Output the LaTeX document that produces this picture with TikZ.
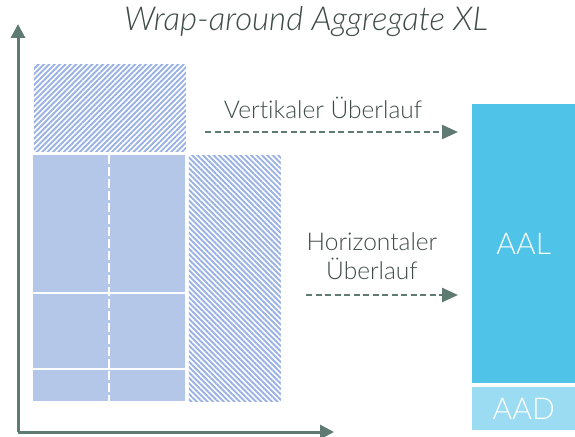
\documentclass[tikz,border=0pt]{standalone}
\usepackage{fontspec}
\setmainfont{Lato}[UprightFont={* Light}, ItalicFont={* Light Italic}, Ligatures=NoCommon]
\usetikzlibrary{patterns.meta,arrows.meta}
\definecolor{axisgray}{HTML}{5F7A72}
\definecolor{textgray}{HTML}{3E4B47}
\definecolor{cellblue}{HTML}{B4C7E8}
\definecolor{hatchblue}{HTML}{9AB2E3}
\definecolor{aalblue}{HTML}{4FC3E8}
\definecolor{aadblue}{HTML}{9CDCF2}
\tikzset{
  axisline/.style={draw=axisgray, line width=3pt, -{Triangle[length=14pt,width=14pt]}},
  flowarrow/.style={draw=axisgray, line width=2.5pt, dash pattern=on 6pt off 3.5pt,
                    -{Triangle[length=16pt,width=14pt]}},
  cell/.style={fill=cellblue, draw=none, inner sep=0pt, anchor=north west},
  hatchNE/.style={fill=white, pattern={Lines[angle=45,distance=3.8pt,line width=1.9pt]},
                  pattern color=hatchblue, draw=none, inner sep=0pt, anchor=north west},
  hatchNW/.style={fill=white, pattern={Lines[angle=-45,distance=3.8pt,line width=1.9pt]},
                  pattern color=hatchblue, draw=none, inner sep=0pt, anchor=north west},
  block/.style={draw=none, inner sep=0pt, anchor=north west},
  blocktext/.style={text=white, font=\fontsize{30}{34}\selectfont},
  label/.style={text=textgray, font=\fontsize{24.5}{29}\selectfont, align=center},
  divider/.style={draw=white, line width=2.5pt}
}
\begin{document}
\begin{tikzpicture}[x=1pt,y=-1pt]
\useasboundingbox (0,0) rectangle (575,436);

% title
\node[text=textgray, font=\fontsize{33}{39}\selectfont\itshape] (title) at (306,22) {Wrap-around Aggregate XL};

% axes
\coordinate (origin) at (18,432);
\coordinate (ytop) at (18,24);
\coordinate (xend) at (334,432);
\draw[axisline] (origin) -- (ytop);
\draw[axisline] (origin) -- (xend);

% vertical overflow (hatched, above)
\node[hatchNE, minimum width=152pt, minimum height=87pt] (vover) at (33,64) {};
% main aggregate cells
\node[cell, minimum width=152pt, minimum height=246pt] (main) at (33,155) {};
% horizontal overflow (hatched, right)
\node[hatchNW, minimum width=92pt, minimum height=246pt] (hover) at (188,155) {};

% cell dividers
\coordinate (vdtop) at (109,155);
\coordinate (vdbot) at (109,401);
\draw[divider, dash pattern=on 9pt off 3pt] (vdtop) -- (vdbot);
\coordinate (h1l) at (33,293);
\coordinate (h1r) at (185,293);
\coordinate (h2l) at (33,369);
\coordinate (h2r) at (185,369);
\draw[divider] (h1l) -- (h1r);
\draw[divider] (h2l) -- (h2r);

% target blocks
\node[block, fill=aalblue, minimum width=103pt, minimum height=279pt] (aal) at (472,104) {};
\node[blocktext] (aaltext) at (aal.center) {AAL};
\node[block, fill=aadblue, minimum width=103pt, minimum height=43pt] (aad) at (472,387) {};
\node[blocktext] (aadtext) at (aad.center) {AAD};

% overflow arrows
\node[label] (vlabel) at (323,108) {Vertikaler Überlauf};
\coordinate (va) at (205,132);
\coordinate (vb) at (458,132);
\draw[flowarrow] (va) -- (vb);

\node[label] (hlabel) at (372,256) {Horizontaler\\Überlauf};
\coordinate (ha) at (306,295);
\coordinate (hb) at (458,295);
\draw[flowarrow] (ha) -- (hb);
\end{tikzpicture}
\end{document}
